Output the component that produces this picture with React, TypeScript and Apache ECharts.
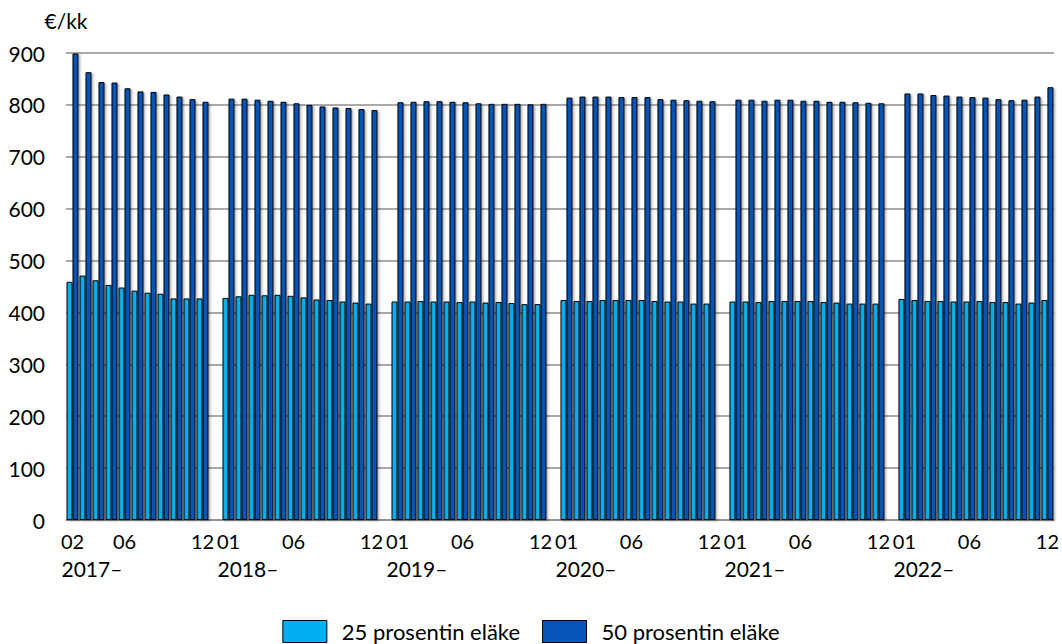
import React, { useEffect, useRef } from "react";
import * as echarts from "echarts";

const years = ["2017", "2018", "2019", "2020", "2021", "2022"];
const firstYearMonths = ["02", "03", "04", "05", "06", "07", "08", "09", "10", "11", "12"];
const fullYearMonths = ["01", "02", "03", "04", "05", "06", "07", "08", "09", "10", "11", "12"];
const shownTickMonths = ["01", "02", "06", "12"];
const seriesNames = ["25 prosentin eläke", "50 prosentin eläke"];

// 25 % pension, 2017-02 ... 2022-12
const pension25 = [
  459, 471, 462, 453, 448, 442, 438, 436, 427, 427, 427,
  428, 431, 434, 433, 434, 432, 429, 425, 424, 421, 419, 417,
  421, 421, 422, 421, 421, 420, 421, 419, 420, 418, 416, 416,
  424, 422, 422, 424, 424, 424, 424, 422, 421, 421, 417, 417,
  421, 421, 420, 422, 422, 422, 422, 420, 419, 417, 417, 417,
  426, 424, 422, 422, 421, 421, 422, 420, 420, 417, 419, 424,
];

// 50 % pension, 2017-02 ... 2022-12
const pension50 = [
  899, 863, 844, 843, 832, 826, 825, 820, 816, 811, 806,
  812, 812, 810, 808, 806, 803, 800, 797, 795, 794, 792, 790,
  805, 806, 807, 807, 806, 805, 803, 802, 802, 802, 801, 802,
  814, 816, 816, 816, 815, 815, 815, 811, 810, 809, 808, 807,
  810, 810, 808, 810, 810, 808, 808, 806, 806, 805, 804, 803,
  822, 822, 819, 818, 816, 815, 814, 811, 809, 810, 816, 834,
];

const FONT = "Lato, 'Open Sans', sans-serif";

function buildData() {
  const cats: string[] = [];
  const d25: (number | string)[] = [];
  const d50: (number | string)[] = [];
  let idx = 0;
  years.forEach((y, yi) => {
    if (yi > 0) {
      cats.push("gap-" + y);
      d25.push("-");
      d50.push("-");
    }
    const months = yi === 0 ? firstYearMonths : fullYearMonths;
    months.forEach((m) => {
      cats.push(y + "-" + m);
      d25.push(pension25[idx]);
      d50.push(pension50[idx]);
      idx++;
    });
  });
  return { cats, d25, d50 };
}

export default function App() {
  const ref = useRef<HTMLDivElement>(null);
  useEffect(() => {
    if (!ref.current) return;
    const chart = echarts.init(ref.current, null, { renderer: "svg" });
    const { cats, d25, d50 } = buildData();
    const firstOfYear = new Set<string>();
    years.forEach((y, yi) => firstOfYear.add(y + "-" + (yi === 0 ? firstYearMonths[0] : fullYearMonths[0])));

    const barStyle = (color: string) => ({
      color,
      borderColor: "#000",
      borderWidth: 1,
      shadowColor: "rgba(0,0,0,0.35)",
      shadowBlur: 2,
      shadowOffsetX: 1.5,
      shadowOffsetY: 1,
    });

    chart.setOption({
      animation: false,
      backgroundColor: "#fff",
      textStyle: { fontFamily: FONT },
      grid: { left: 66, right: 2, top: 53, bottom: 124, containLabel: false },
      legend: {
        data: seriesNames,
        top: 615,
        left: "center",
        padding: [5, 5, 0, 5],
        itemWidth: 44,
        itemHeight: 22,
        itemGap: 22,
        icon: "rect",
        itemStyle: { borderColor: "#000", borderWidth: 1, shadowBlur: 0, shadowOffsetX: 0, shadowOffsetY: 0, shadowColor: "transparent" },
        textStyle: { fontFamily: FONT, fontSize: 22, lineHeight: 22, color: "#000", padding: [0, 0, 0, 10] },
      },
      xAxis: [
        {
          type: "category",
          data: cats,
          position: "bottom",
          axisLine: { lineStyle: { color: "#8c8c8c", width: 1.5 } },
          axisTick: { show: false },
          axisLabel: {
            interval: 0,
            margin: 11,
            fontSize: 20,
            color: "#000",
            fontFamily: FONT,
            formatter: (v: string) => {
              const parts = v.split("-");
              if (parts[0] === "gap") return "";
              return shownTickMonths.indexOf(parts[1]) >= 0 && (parts[1] !== "02" || parts[0] === years[0]) ? parts[1] : "";
            },
          },
        },
        {
          type: "category",
          data: cats,
          position: "bottom",
          axisLine: { show: false },
          axisTick: { show: false },
          axisLabel: {
            interval: 0,
            margin: 38,
            fontSize: 21,
            color: "#000",
            fontFamily: FONT,
            align: "left",
            padding: [0, 0, 0, -11],
            formatter: (v: string) => (firstOfYear.has(v) ? v.split("-")[0] + "–" : ""),
          },
        },
      ],
      yAxis: {
        type: "value",
        min: 0,
        max: 900,
        interval: 100,
        name: "€/kk",
        nameLocation: "end",
        nameGap: 22,
        nameTextStyle: { fontSize: 21, color: "#000", fontFamily: FONT, align: "center" },
        axisLine: { show: false },
        axisTick: { show: false },
        axisLabel: { margin: 21, fontSize: 21, color: "#000", fontFamily: FONT },
        splitLine: { lineStyle: { color: "#8c8c8c", width: 1.5 } },
      },
      series: [
        {
          name: seriesNames[0],
          type: "bar",
          data: d25,
          barGap: "0%",
          barCategoryGap: "8%",
          itemStyle: barStyle("#00B0F0"),
        },
        {
          name: seriesNames[1],
          type: "bar",
          data: d50,
          barGap: "0%",
          barCategoryGap: "8%",
          itemStyle: barStyle("#0455B6"),
        },
      ],
    });
    return () => chart.dispose();
  }, []);
  return (
    <div
      ref={ref}
      style={{ position: "fixed", left: 0, top: 0, width: 1062, height: 644, background: "#fff" }}
    />
  );
}
